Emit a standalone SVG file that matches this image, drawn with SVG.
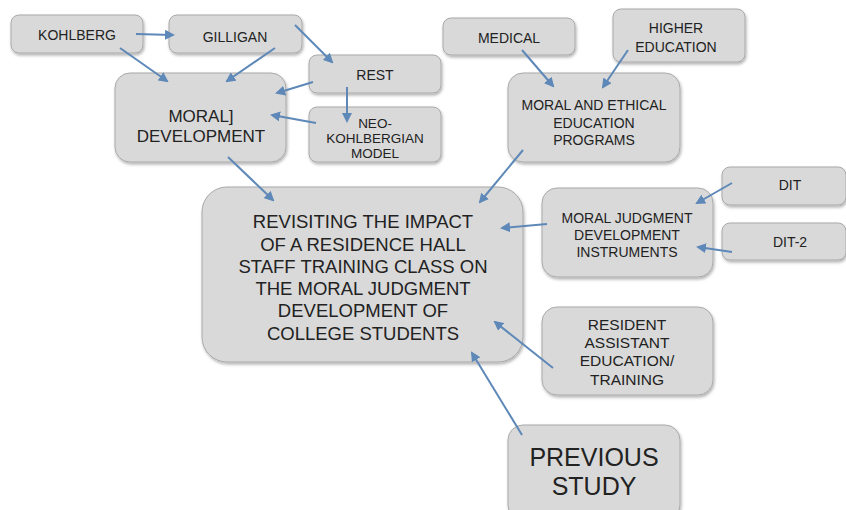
<svg xmlns="http://www.w3.org/2000/svg" width="846" height="510" viewBox="0 0 846 510">
<style>
.box{fill:#d9d9d9;stroke:#a9a9a9;stroke-width:1;filter:url(#sh)}
text{font-family:"Liberation Sans",Arial,sans-serif;fill:#222;text-anchor:middle}
.s{font-size:14px}
.c line{stroke:#5d88b8;stroke-width:2;marker-end:url(#ah)}
</style>
<defs>
<filter id="sh" x="-10%" y="-10%" width="130%" height="130%">
<feDropShadow dx="1" dy="2" stdDeviation="1.5" flood-color="#000" flood-opacity="0.3"/>
</filter>
<marker id="ah" viewBox="0 0 10 10" refX="8" refY="5" markerWidth="5" markerHeight="5" orient="auto" markerUnits="strokeWidth">
<path d="M0,0 L10,5 L0,10 z" fill="#5d88b8"/>
</marker>
</defs>
<g id="n-kohlberg"><rect class="box" x="11" y="15" width="132" height="38" rx="8"/><text class="s" x="77" y="40">KOHLBERG</text></g>
<g id="n-gilligan"><rect class="box" x="169" y="15" width="133" height="38" rx="8"/><text class="s" x="235" y="42">GILLIGAN</text></g>
<g id="n-rest"><rect class="box" x="309" y="55" width="132" height="38" rx="8"/><text class="s" x="375" y="80">REST</text></g>
<g id="n-neo"><rect class="box" x="309" y="107" width="132" height="55" rx="8"/><text style="font-size:13.5px" x="375" y="128">NEO-</text><text style="font-size:13.5px" x="375" y="143">KOHLBERGIAN</text><text style="font-size:13.5px" x="375" y="158">MODEL</text></g>
<g id="n-moral"><rect class="box" x="115" y="73" width="171" height="89" rx="15"/><text style="font-size:17px" x="201" y="122">MORAL]</text><text style="font-size:17px" x="201" y="142">DEVELOPMENT</text></g>
<g id="n-medical"><rect class="box" x="443" y="18" width="132" height="37" rx="8"/><text class="s" x="509" y="43">MEDICAL</text></g>
<g id="n-higher"><rect class="box" x="613" y="9" width="132" height="53" rx="8"/><text class="s" x="676" y="33">HIGHER</text><text class="s" x="676" y="52">EDUCATION</text></g>
<g id="n-moraleth"><rect class="box" x="508" y="73" width="172" height="89" rx="15"/><text class="s" x="594" y="110">MORAL AND ETHICAL</text><text class="s" x="594" y="128">EDUCATION</text><text class="s" x="594" y="145">PROGRAMS</text></g>
<g id="n-main"><rect class="box" x="202" y="187" width="321" height="175" rx="25"/>
<text style="font-size:18.5px" x="363" y="228">REVISITING THE IMPACT</text>
<text style="font-size:18.5px" x="363" y="251">OF A RESIDENCE HALL</text>
<text style="font-size:18.5px" x="363" y="273">STAFF TRAINING CLASS ON</text>
<text style="font-size:18.5px" x="363" y="295">THE MORAL JUDGMENT</text>
<text style="font-size:18.5px" x="363" y="317">DEVELOPMENT OF</text>
<text style="font-size:18.5px" x="363" y="340">COLLEGE STUDENTS</text></g>
<g id="n-mjdi"><rect class="box" x="542" y="188" width="171" height="89" rx="15"/><text class="s" x="627" y="223">MORAL JUDGMENT</text><text class="s" x="627" y="240">DEVELOPMENT</text><text class="s" x="627" y="257">INSTRUMENTS</text></g>
<g id="n-dit"><rect class="box" x="722" y="167" width="124" height="38" rx="8"/><text class="s" x="790" y="190">DIT</text></g>
<g id="n-dit2"><rect class="box" x="722" y="223" width="124" height="37" rx="8"/><text class="s" x="790" y="247">DIT-2</text></g>
<g id="n-ra"><rect class="box" x="542" y="307" width="171" height="88" rx="15"/><text style="font-size:15.5px" x="627" y="330">RESIDENT</text><text style="font-size:15.5px" x="627" y="348">ASSISTANT</text><text style="font-size:15.5px" x="627" y="366">EDUCATION/</text><text style="font-size:15.5px" x="627" y="385">TRAINING</text></g>
<g id="n-prev"><rect class="box" x="508" y="425" width="172" height="95" rx="15"/><text style="font-size:25px" x="594" y="466">PREVIOUS</text><text style="font-size:25px" x="594" y="495">STUDY</text></g>
<g id="connectors" class="c">
<line x1="136" y1="34" x2="173" y2="35"/>
<line x1="120" y1="48" x2="167" y2="81"/>
<line x1="275" y1="48" x2="227" y2="81"/>
<line x1="295" y1="25" x2="332" y2="62"/>
<line x1="313" y1="82" x2="277" y2="93"/>
<line x1="347" y1="87" x2="347" y2="121"/>
<line x1="316" y1="123" x2="272" y2="115"/>
<line x1="228" y1="157" x2="273" y2="200"/>
<line x1="522" y1="50" x2="553" y2="86"/>
<line x1="628" y1="50" x2="603" y2="87"/>
<line x1="523" y1="150" x2="480" y2="202"/>
<line x1="732" y1="183" x2="697" y2="203"/>
<line x1="732" y1="252" x2="698" y2="247"/>
<line x1="547" y1="224" x2="502" y2="228"/>
<line x1="553" y1="368" x2="495" y2="322"/>
<line x1="522" y1="435" x2="472" y2="353"/>
</g>
</svg>
